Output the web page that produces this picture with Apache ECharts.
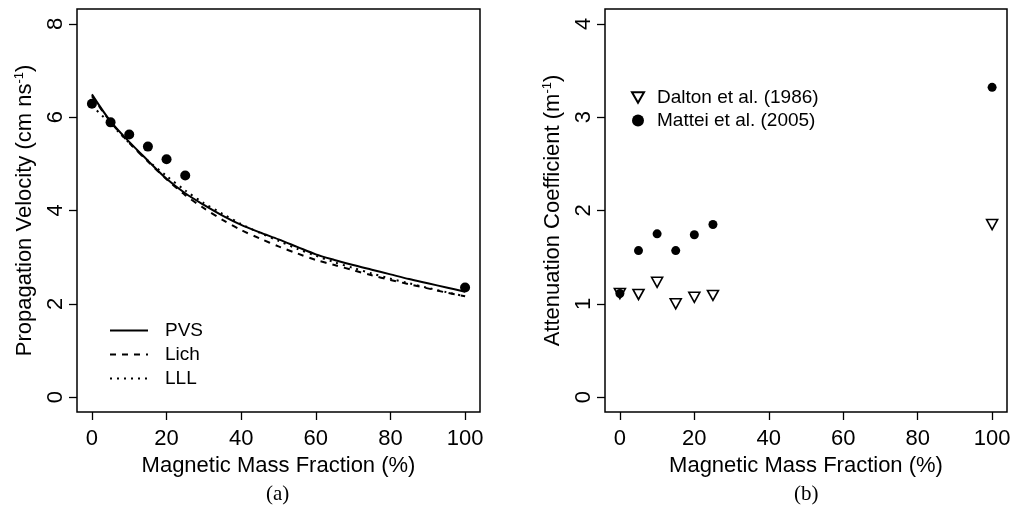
<!DOCTYPE html>
<html>
<head>
<meta charset="utf-8">
<title>Propagation velocity and attenuation</title>
<script src="https://cdn.jsdelivr.net/npm/echarts@6/dist/echarts.min.js"></script>
<style>
  html, body { margin: 0; padding: 0; background: #fff; }
  #chart { width: 1011px; height: 510px; }
</style>
</head>
<body>
<div id="chart"></div>
<script>
// model curves, panel (a)
const fracCurve = [0, 5, 10, 15, 20, 25, 30, 35, 40, 45, 50, 55, 60, 65, 70, 75, 80, 85, 90, 95, 100]
const pvs = [6.49, 5.91, 5.47, 5.07, 4.68, 4.37, 4.12, 3.89, 3.69, 3.53, 3.38, 3.22, 3.06, 2.94, 2.83, 2.73, 2.63, 2.53, 2.44, 2.35, 2.26]
const lich = [6.45, 5.90, 5.45, 5.05, 4.67, 4.33, 4.05, 3.80, 3.58, 3.40, 3.23, 3.08, 2.94, 2.83, 2.72, 2.61, 2.51, 2.42, 2.33, 2.24, 2.16]
const lll = [6.24, 5.86, 5.45, 5.07, 4.74, 4.43, 4.16, 3.93, 3.71, 3.52, 3.35, 3.18, 3.03, 2.89, 2.77, 2.65, 2.54, 2.44, 2.34, 2.25, 2.16]

// measured points
const fracPts = [0, 5, 10, 15, 20, 25, 100]
const velObs = [6.29, 5.89, 5.63, 5.37, 5.10, 4.75, 2.35]
const dalton = [1.11, 1.10, 1.23, 1.00, 1.07, 1.09, 1.85]
const mattei = [1.11, 1.57, 1.75, 1.57, 1.74, 1.85, 3.32]

// tick labels
const xTicks = [0, 20, 40, 60, 80, 100]
const yTicksA = [0, 2, 4, 6, 8]
const yTicksB = [0, 1, 2, 3, 4]

const FONT = 'Liberation Sans, Arial, Helvetica, sans-serif'
// open triangle pointing down (R pch 6)
const TRI_DOWN = 'path://M0,0L12,0L6,10.4Z'

function pairs (xs, ys) {
  return xs.map((x, i) => [x, ys[i]])
}

function xAxisOf (gridIndex) {
  return {
    gridIndex: gridIndex,
    type: 'value',
    position: 'bottom',
    min: -4,
    max: 104,
    name: 'Magnetic Mass Fraction (%)',
    nameLocation: 'middle',
    nameGap: 38,
    nameTextStyle: { color: '#000', fontSize: 22, fontFamily: FONT },
    axisLine: { show: false, onZero: false },
    axisTick: { show: true, inside: false, length: 8, customValues: xTicks, lineStyle: { color: '#000', width: 1.3 } },
    axisLabel: { customValues: xTicks, margin: 16, color: '#000', fontSize: 22, fontFamily: FONT },
    splitLine: { show: false }
  }
}

function yAxisOf (gridIndex, min, max, ticks, title) {
  return {
    gridIndex: gridIndex,
    type: 'value',
    position: 'left',
    min: min,
    max: max,
    name: title,
    nameLocation: 'middle',
    nameRotate: 90,
    nameGap: 41,
    nameTextStyle: {
      color: '#000',
      fontSize: 22,
      fontFamily: FONT,
      rich: {
        sup: { fontSize: 13, verticalAlign: 'top', color: '#000', fontFamily: FONT, padding: [0, 0, 10, 0] }
      }
    },
    axisLine: { show: false, onZero: false },
    axisTick: { show: true, inside: false, length: 8, customValues: ticks, lineStyle: { color: '#000', width: 1.3 } },
    axisLabel: { customValues: ticks, rotate: 90, margin: 10, color: '#000', fontSize: 22, fontFamily: FONT },
    splitLine: { show: false }
  }
}

const chart = echarts.init(document.getElementById('chart'), null, { renderer: 'canvas' })

const option = {
  backgroundColor: '#fff',
  animation: false,
  grid: [
    { left: 77, top: 9, width: 403, height: 403, show: true, borderColor: '#000', borderWidth: 1.5, backgroundColor: 'transparent', containLabel: false, outerBoundsMode: 'none' },
    { left: 605, top: 9, width: 402, height: 403, show: true, borderColor: '#000', borderWidth: 1.5, backgroundColor: 'transparent', containLabel: false, outerBoundsMode: 'none' }
  ],
  xAxis: [xAxisOf(0), xAxisOf(1)],
  yAxis: [
    yAxisOf(0, -0.32, 8.32, yTicksA, 'Propagation Velocity (cm ns{sup|-1})'),
    yAxisOf(1, -0.16, 4.16, yTicksB, 'Attenuation Coefficient (m{sup|-1})')
  ],
  legend: [
    {
      data: ['PVS', 'Lich', 'LLL'],
      orient: 'vertical',
      left: 104,
      top: 316,
      itemWidth: 38,
      itemHeight: 14,
      itemGap: 5,
      itemStyle: { opacity: 0 },
      textStyle: { color: '#000', fontSize: 19, fontFamily: FONT, padding: [0, 0, 0, 12] },
      selectedMode: false
    },
    {
      data: ['Dalton et al. (1986)', 'Mattei et al. (2005)'],
      orient: 'vertical',
      left: 626,
      top: 83,
      itemWidth: 12,
      itemHeight: 12,
      itemGap: 4,
      textStyle: { color: '#000', fontSize: 19, fontFamily: FONT, padding: [0, 0, 0, 8] },
      selectedMode: false
    }
  ],
  graphic: [
    { type: 'text', left: 266, top: 484, style: { text: '(a)', fill: '#000', font: '21px "Liberation Serif", "Times New Roman", serif' } },
    { type: 'text', left: 794, top: 484, style: { text: '(b)', fill: '#000', font: '21px "Liberation Serif", "Times New Roman", serif' } }
  ],
  series: [
    {
      name: 'PVS', type: 'line', xAxisIndex: 0, yAxisIndex: 0,
      data: pairs(fracCurve, pvs), smooth: 0.3, symbol: 'none',
      lineStyle: { color: '#000', width: 2, type: 'solid' }
    },
    {
      name: 'Lich', type: 'line', xAxisIndex: 0, yAxisIndex: 0,
      data: pairs(fracCurve, lich), smooth: 0.3, symbol: 'none',
      lineStyle: { color: '#000', width: 2, type: [6, 6] }
    },
    {
      name: 'LLL', type: 'line', xAxisIndex: 0, yAxisIndex: 0,
      data: pairs(fracCurve, lll), smooth: 0.3, symbol: 'none',
      lineStyle: { color: '#000', width: 2, type: [2, 5] }
    },
    {
      name: 'Measured velocity', type: 'scatter', xAxisIndex: 0, yAxisIndex: 0,
      data: pairs(fracPts, velObs), symbol: 'circle', symbolSize: 10,
      itemStyle: { color: '#000', opacity: 1 }
    },
    {
      name: 'Dalton et al. (1986)', type: 'scatter', xAxisIndex: 1, yAxisIndex: 1,
      data: pairs(fracPts, dalton), symbol: TRI_DOWN, symbolSize: [11, 10],
      itemStyle: { color: '#fff', borderColor: '#000', borderWidth: 1.6, opacity: 1 }
    },
    {
      name: 'Mattei et al. (2005)', type: 'scatter', xAxisIndex: 1, yAxisIndex: 1,
      data: pairs(fracPts, mattei), symbol: 'circle', symbolSize: 9,
      itemStyle: { color: '#000', opacity: 1 }
    }
  ]
}

chart.setOption(option)
</script>
</body>
</html>
